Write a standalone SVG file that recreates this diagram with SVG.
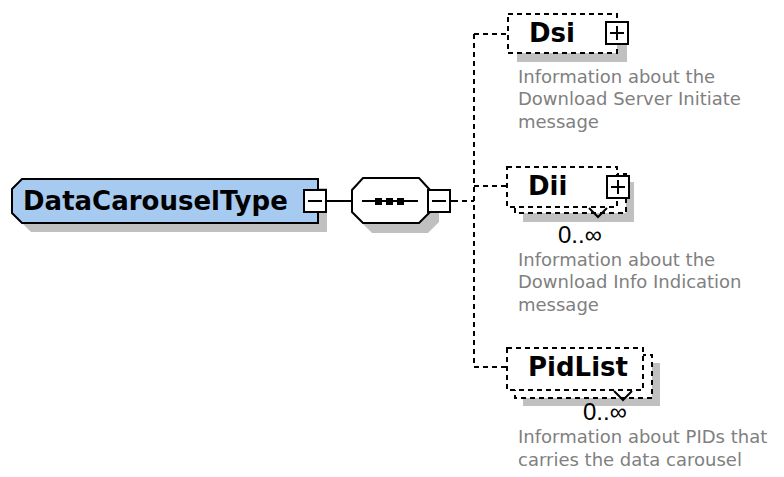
<svg xmlns="http://www.w3.org/2000/svg" width="784" height="477" viewBox="0 0 784 477">
<style>
.shadow{fill:#c0c0c0;stroke:none}
.line{stroke:#000;stroke-width:2;fill:none}
.dash{stroke:#000;stroke-width:2;fill:none;stroke-dasharray:5,4}
.dbox{fill:#fff;stroke:#000;stroke-width:2;stroke-dasharray:5,4}
.btn{fill:#fff;stroke:#000;stroke-width:2}
.name{font-family:"DejaVu Sans",sans-serif;font-weight:bold;font-size:26px;fill:#000}
.doc{font-family:"DejaVu Sans",sans-serif;font-size:18px;fill:#808080}
.occ{font-family:"Liberation Sans",sans-serif;font-size:24px;fill:#000}
</style>
<rect width="784" height="477" fill="#fff"/>
<g id="connectors">
<line class="line" x1="327" y1="201" x2="352" y2="201"/>
<line class="line" x1="450" y1="201" x2="458" y2="201"/>
<line class="dash" x1="462" y1="201" x2="474" y2="201"/>
<line class="dash" x1="474" y1="34" x2="474" y2="367"/>
<line class="dash" x1="474" y1="34" x2="508" y2="34"/>
<line class="dash" x1="474" y1="186" x2="507" y2="186"/>
<line class="dash" x1="474" y1="367" x2="507" y2="367"/>
</g>
<g id="DataCarouselType">
<path class="shadow" d="M21,198 L31,188 L327,188 L327,232 L31,232 L21,222 Z"/>
<path d="M12,189 L22,179 L318,179 L318,223 L22,223 L12,213 Z" fill="#a6caf0" stroke="#000" stroke-width="2"/>
<text class="name" x="23" y="210">DataCarouselType</text>
<rect class="btn" x="304" y="190" width="22" height="22"/>
<line class="line" x1="308" y1="201" x2="322" y2="201"/>
</g>
<g id="sequence">
<polygon class="shadow" points="361,200 372,188 428,188 439,200 439,222 428,233 372,233 361,222"/>
<polygon points="352,190 363,178 419,178 430,190 430,212 419,223 363,223 352,212" fill="#fff" stroke="#000" stroke-width="2"/>
<line class="line" x1="362" y1="201" x2="418" y2="201"/>
<rect x="375" y="198" width="7" height="7" fill="#000"/>
<rect x="386" y="198" width="7" height="7" fill="#000"/>
<rect x="397" y="198" width="7" height="7" fill="#000"/>
<rect class="btn" x="428" y="190" width="22" height="22"/>
<line class="line" x1="432" y1="201" x2="446" y2="201"/>
</g>
<g id="Dsi">
<rect class="shadow" x="517" y="23" width="110" height="39"/>
<rect class="dbox" x="508" y="14" width="109" height="39"/>
<text class="name" x="529" y="42">Dsi</text>
<rect class="btn" x="606" y="22" width="22" height="22"/>
<line class="line" x1="610" y1="33" x2="624" y2="33"/>
<line class="line" x1="617" y1="26" x2="617" y2="40"/>
<text class="doc" x="518" y="83">Information about the</text>
<text class="doc" x="518" y="105">Download Server Initiate</text>
<text class="doc" x="518" y="128">message</text>
</g>
<g id="Dii">
<rect class="shadow" x="523" y="182" width="111" height="40"/>
<rect class="dbox" x="515" y="174" width="111" height="39"/>
<rect class="dbox" x="507" y="167" width="110" height="40"/>
<text class="name" x="528" y="195">Dii</text>
<rect class="btn" x="607" y="176" width="22" height="22"/>
<line class="line" x1="611" y1="187" x2="625" y2="187"/>
<line class="line" x1="618" y1="180" x2="618" y2="194"/>
<polyline class="line" points="589,208 598,217 607,208"/>
<text class="occ" x="558" y="243">0..∞</text>
<text class="doc" x="518" y="266">Information about the</text>
<text class="doc" x="518" y="288">Download Info Indication</text>
<text class="doc" x="518" y="311">message</text>
</g>
<g id="PidList">
<rect class="shadow" x="523" y="363" width="137" height="43"/>
<rect class="dbox" x="515" y="355" width="137" height="43"/>
<rect class="dbox" x="507" y="348" width="136" height="42"/>
<text class="name" x="528" y="376">PidList</text>
<polyline class="line" points="614,391 623,400 632,391"/>
<text class="occ" x="583" y="420">0..∞</text>
<text class="doc" x="518" y="443">Information about PIDs that</text>
<text class="doc" x="518" y="466">carries the data carousel</text>
</g>
</svg>
